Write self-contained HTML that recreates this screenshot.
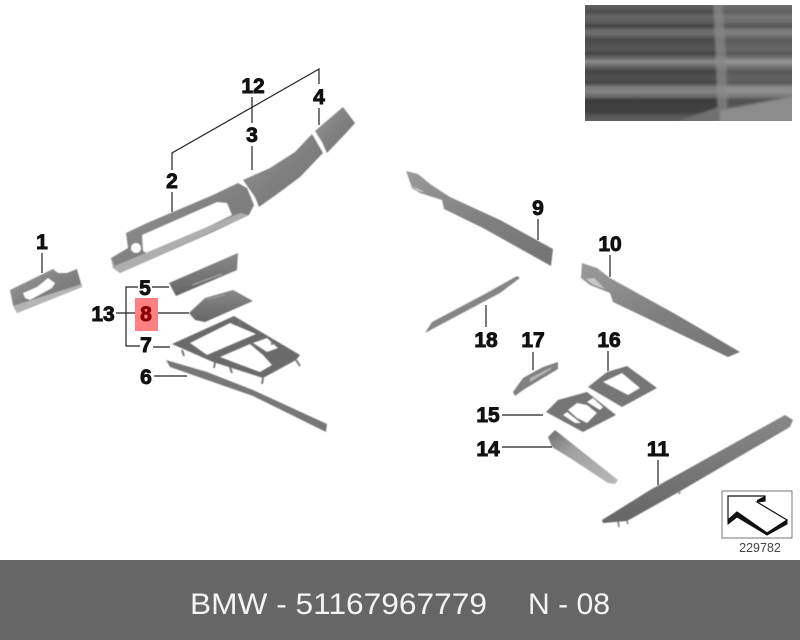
<!DOCTYPE html>
<html><head><meta charset="utf-8">
<style>
html,body{margin:0;padding:0;background:#fff;width:800px;height:640px;overflow:hidden}
svg{display:block}
.l{font:bold 21px "Liberation Sans",sans-serif;fill:#111;stroke:#111;stroke-width:.9;text-anchor:middle}
.b{font:30px "Liberation Sans",sans-serif;fill:#f4f4f4}
</style></head><body>
<svg width="800" height="640" viewBox="0 0 800 640" xmlns="http://www.w3.org/2000/svg">
<defs>
<linearGradient id="g" x1="0" y1="0" x2="1" y2="1"><stop offset="0" stop-color="#9a9a9a"/><stop offset=".5" stop-color="#808080"/><stop offset="1" stop-color="#747474"/></linearGradient>
<linearGradient id="d" x1="0" y1="0" x2="0" y2="1"><stop offset="0" stop-color="#888"/><stop offset="1" stop-color="#666"/></linearGradient>
<linearGradient id="t" x1="0" y1="0" x2="1" y2="1"><stop offset="0" stop-color="#6e6e6e"/><stop offset=".35" stop-color="#a0a0a0"/><stop offset="1" stop-color="#b8b8b8"/></linearGradient>
<linearGradient id="w" x1="0" y1="0" x2="0" y2="1">
<stop offset="0" stop-color="#5f5f5f"/><stop offset=".06" stop-color="#4e4e4e"/><stop offset=".1" stop-color="#666"/><stop offset=".15" stop-color="#5a5a5a"/><stop offset=".18" stop-color="#444"/><stop offset=".22" stop-color="#6c6c6c"/><stop offset=".25" stop-color="#6e6e6e"/><stop offset=".3" stop-color="#4a4a4a"/><stop offset=".38" stop-color="#555"/><stop offset=".42" stop-color="#464646"/><stop offset=".46" stop-color="#6a6a6a"/><stop offset=".49" stop-color="#8a8a8a"/><stop offset=".53" stop-color="#666"/><stop offset=".57" stop-color="#454545"/><stop offset=".63" stop-color="#505050"/><stop offset=".67" stop-color="#474747"/><stop offset=".71" stop-color="#7c7c7c"/><stop offset=".75" stop-color="#828282"/><stop offset=".79" stop-color="#666"/><stop offset=".82" stop-color="#3e3e3e"/><stop offset=".92" stop-color="#404040"/><stop offset=".96" stop-color="#585858"/><stop offset="1" stop-color="#606060"/>
</linearGradient>
<filter id="s" x="-5%" y="-5%" width="110%" height="110%"><feGaussianBlur stdDeviation=".5"/></filter>
<filter id="s2" x="-5%" y="-5%" width="110%" height="110%"><feGaussianBlur stdDeviation="1.2"/></filter>
<clipPath id="pc"><rect x="585" y="5" width="207" height="116"/></clipPath>
</defs>
<rect width="800" height="640" fill="#fff"/>

<!-- photo -->
<g clip-path="url(#pc)">
<rect x="585" y="5" width="207" height="116" fill="url(#w)"/>
<g filter="url(#s2)">
<polygon points="713,0 800,0 800,125 718,125" fill="#fff" opacity=".1"/>
<polygon points="713,0 722,0 726,60 728,125 718,125 716,60" fill="#888" opacity=".7"/>
<polygon points="720,110 800,95 800,125 720,125" fill="#8c8c8c"/>
<polygon points="668,125 718,107 720,125" fill="#707070"/>
</g>
</g>

<g filter="url(#s)">
<!-- 1 -->
<path fill-rule="evenodd" fill="url(#g)" d="M10,290 53,269 58,273 67,273 77,269 82,287 17,313 13,305Z M23,293 37,287 48,278 55,283 52,288 30,300 25,298Z"/>
<polygon points="13,306 82,284 82,287 17,313" fill="#b5b5b5"/>
<!-- 2 -->
<path fill-rule="evenodd" fill="url(#g)" d="M126,233 147,223 173,212 213,195 238,183 247,188 254,205 249,215 213,232 120,273 113,268 111,258 128,248Z M142,235 217,202 227,203 232,215 150,255 143,251Z"/>
<circle cx="136" cy="248" r="5" fill="#fff"/>
<polygon points="111,258 115,266 240,213 249,215 120,273 113,268" fill="#aeaeae"/>
<!-- 3 -->
<polygon points="243,180 270,168 295,152 312,134 323,153 300,177 280,192 259,207 255,197" fill="url(#g)"/>
<!-- 4 -->
<polygon points="315,131 343,107 355,123 347,132 327,153 322,142" fill="url(#g)"/>
<!-- 5 -->
<polygon points="169,283 238,253 237,270 176,296" fill="url(#d)"/>
<line x1="192" y1="285" x2="222" y2="274" stroke="#bbb" stroke-width=".8"/>
<!-- 8 -->
<polygon points="189,313 205,298 233,290 253,301 205,322 195,320" fill="url(#d)"/>
<line x1="207" y1="299" x2="225" y2="295" stroke="#aaa" stroke-width=".8"/>
<!-- 7 -->
<path fill-rule="evenodd" fill="#6a6a6a" d="M172,344 234,316 300,355 296,360 263,378 213,362 Z M190,343 230,323 256,334 207,355Z M220,357 250,344 263,355 272,365 260,372 233,362Z M253,343 267,338 278,348 267,352Z"/>
<path d="M182,350 184,356 M215,362 214,368 M230,367 232,373 M263,378 262,384 M296,360 300,366 M240,320 240,325 M272,345 272,340" stroke="#777" stroke-width="2" fill="none"/>
<!-- 6 -->
<polygon points="166,360 207,372 253,390 327,424 326,432 253,396 170,367" fill="#777"/>
<!-- 9 -->
<polygon points="406,171 418,174 430,184 450,197 500,220 553,249 551,266 483,228 444,209 442,200 420,193 412,188" fill="url(#g)"/>
<polygon points="412,186 425,192 418,191" fill="#ccc"/>
<!-- 10 -->
<polygon points="582,263 597,268 610,278 677,315 740,352 728,357 613,302 610,293 590,285 581,278" fill="url(#g)"/>
<polygon points="586,279 594,278 605,289 592,284" fill="#c8c8c8"/>
<!-- 18 -->
<polygon points="517,276 520,278 500,293 425,333 432,322 483,295" fill="#858585"/>
<!-- 17 -->
<polygon points="558,362 558,369 523,390 515,396 513,392 523,378 543,367" fill="#808080"/>
<polygon points="530,378 552,367 550,370 530,382" fill="#b5b5b5"/>
<!-- 16 -->
<path fill-rule="evenodd" fill="#767676" d="M588,387 607,372 627,366 657,388 622,407Z M603,382 622,373 640,388 628,395Z"/>
<!-- 15 -->
<path fill-rule="evenodd" fill="#747474" d="M546,412 558,400 587,392 616,415 583,432Z M568,410 577,403 587,405 597,413 587,423 577,418Z M587,402 593,398 603,407 600,410Z M563,415 567,412 581,423 575,423Z"/>
<!-- 14 -->
<polygon points="555,430 618,480 615,484 608,483 570,458 552,447 548,437" fill="url(#t)"/>
<!-- 11 -->
<polygon points="785,415 793,420 790,427 677,493 627,521 603,523 602,520 650,490" fill="url(#d)"/>
<path d="M618,521 619,527 M627,521 628,524 M680,492 679,494" stroke="#777" stroke-width="1.5" fill="none"/>
</g>

<!-- leader lines -->
<g stroke="#222" stroke-width="1.2" fill="none">
<polyline points="172,170 172,153 319,69 319,84"/>
<path d="M252,97V123M252,146V170M319,108V125M172,192V212M42,253V273"/>
<path d="M169,287H152M138,287H126V346H140M153,347H170M116,313H135M153,313H189M154,376H187"/>
<path d="M538,219V240M610,255V277M486,305V327M533,352V370M608,351V371M502,415H543M502,447H552M658,460V485"/>
</g>

<!-- highlight -->
<rect x="135" y="298" width="23" height="33" fill="#ff8080"/>

<!-- labels -->
<text class="l" x="42" y="249">1</text>
<text class="l" x="172" y="188">2</text>
<text class="l" x="252" y="142">3</text>
<text class="l" x="319" y="104">4</text>
<text class="l" x="145" y="295">5</text>
<text class="l" x="146" y="384">6</text>
<text class="l" x="146" y="352">7</text>
<text class="l" x="146" y="321" style="fill:#8b0000;stroke:#8b0000">8</text>
<text class="l" x="538" y="215">9</text>
<text class="l" x="610" y="251">10</text>
<text class="l" x="658" y="456">11</text>
<text class="l" x="253" y="93">12</text>
<text class="l" x="103" y="321">13</text>
<text class="l" x="488" y="456">14</text>
<text class="l" x="488" y="422">15</text>
<text class="l" x="609" y="347">16</text>
<text class="l" x="533" y="347">17</text>
<text class="l" x="486" y="347">18</text>

<!-- icon -->
<rect x="722" y="491" width="70" height="47" fill="#fff" stroke="#777" stroke-width="1"/>
<polygon points="728,496 765,496 765,501 757,502 787,520 767,533 737,512 728,520" fill="#fff" stroke="#111" stroke-width="1.2"/>
<polygon points="728,520 728,524 737,517 767,535 787,524 787,520 767,533 737,512" fill="#111" stroke="#111" stroke-width="1"/>
<polygon points="765,496 765,501 757,502 757,500" fill="#111"/>
<text x="760" y="552" font-family="Liberation Sans, sans-serif" font-size="12.5" fill="#444" text-anchor="middle">229782</text>

<!-- bottom bar -->
<rect x="0" y="560" width="800" height="80" fill="#666"/>
<text class="b" x="190" y="614" textLength="297" lengthAdjust="spacingAndGlyphs">BMW - 51167967779</text>
<text class="b" x="528" y="614" textLength="82" lengthAdjust="spacingAndGlyphs">N - 08</text>
</svg>
</body></html>
